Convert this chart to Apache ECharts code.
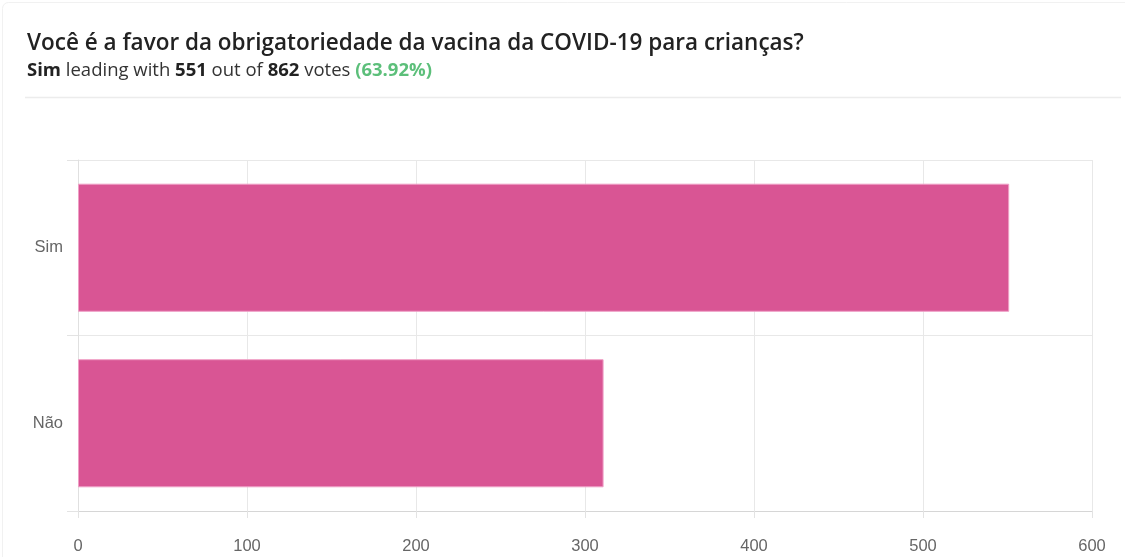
<!DOCTYPE html>
<html>
<head>
<meta charset="utf-8">
<script src="https://cdn.jsdelivr.net/npm/echarts@6/dist/echarts.min.js"></script>
<style>
html,body{margin:0;padding:0;background:#fff;}
#chart{width:1125px;height:557px;}
</style>
</head>
<body>
<div id="chart"></div>
<script>
const categories = ['Sim', 'Não'];
const votes = [551, 311];
const xTicks = [0, 100, 200, 300, 400, 500, 600];

const total = votes.reduce((a, b) => a + b, 0);
const pct = (votes[0] / total * 100).toFixed(2);

const chart = echarts.init(document.getElementById('chart'));
chart.setOption({
  animation: false,
  backgroundColor: '#fff',
  graphic: [
    { type: 'rect', shape: { x: 2.5, y: 2.5, width: 1200, height: 700, r: 6 },
      style: { fill: 'none', stroke: '#f1f1f1', lineWidth: 1 }, silent: true },
    { type: 'line', shape: { x1: 25, y1: 97.5, x2: 1121, y2: 97.5 },
      style: { stroke: '#ececec', lineWidth: 1.5 }, silent: true }
  ],
  title: {
    left: 22, top: 27,
    text: 'Você é a favor da obrigatoriedade da vacina da COVID-19 para crianças?',
    textStyle: { fontFamily: 'Open Sans', fontSize: 22.5, fontWeight: 600, color: '#222' },
    subtext: '{b|' + categories[0] + '} leading with {b|' + votes[0] + '} out of {b|' + total + '} votes {g|(' + pct + '%)}',
    itemGap: 6,
    subtextStyle: {
      fontFamily: 'Open Sans', fontSize: 18.5, color: '#333',
      rich: {
        b: { fontFamily: 'Open Sans', fontSize: 18.5, fontWeight: 700, color: '#222' },
        g: { fontFamily: 'Open Sans', fontSize: 18.5, fontWeight: 700, color: '#5cbf7a' }
      }
    }
  },
  grid: { left: 78, right: 33, top: 160, bottom: 46, containLabel: false },
  xAxis: {
    type: 'value', min: 0, max: 600, interval: 100,
    axisLine: { show: true, lineStyle: { color: '#d6d6d6' } },
    axisTick: { show: true, length: 7, lineStyle: { color: '#e3e3e3' } },
    splitLine: { show: true, lineStyle: { color: '#e8e8e8' } },
    axisLabel: { color: '#666', fontFamily: 'Liberation Sans', fontSize: 16.5, margin: 27,
      formatter: v => xTicks.includes(v) ? String(v) : '' }
  },
  yAxis: {
    type: 'category', data: categories, inverse: true,
    axisLine: { show: true, lineStyle: { color: '#e0e0e0' } },
    axisTick: { show: true, length: 11, lineStyle: { color: '#e3e3e3' } },
    splitLine: { show: true, lineStyle: { color: '#e8e8e8' } },
    axisLabel: { color: '#666', fontFamily: 'Liberation Sans', fontSize: 16.5, margin: 15 }
  },
  series: [{
    type: 'bar', data: votes, barCategoryGap: '27%',
    itemStyle: { color: '#d95594', borderColor: '#ef9fc6', borderWidth: 1 }
  }]
});
</script>
</body>
</html>
